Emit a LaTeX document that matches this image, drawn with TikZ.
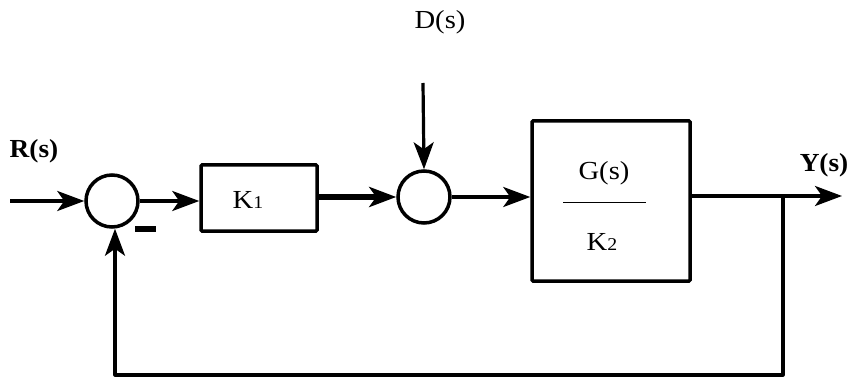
\documentclass[tikz,border=0pt]{standalone}
\usepackage{fontspec}
\setmainfont{Liberation Serif}
\usetikzlibrary{arrows.meta}
\begin{document}
\begin{tikzpicture}[x=1pt,y=-1pt,
  tip/.style={-{Stealth[length=27pt,width=20pt,inset=7pt]}},
  sig/.style={line width=3.2pt,tip},
  fatsig/.style={line width=6.5pt,tip},
  wire/.style={line width=3.2pt,line join=round},
  sumnode/.style={circle,draw,line width=3.5pt,minimum size=52pt,inner sep=0pt},
  blk/.style={draw,line width=3.5pt,rounded corners=1pt,inner sep=0pt},
  lbl/.style={font=\fontsize{26}{28}\selectfont,inner sep=0pt,xscale=1.1},
  blbl/.style={font=\fontsize{26}{28}\selectfont\bfseries,inner sep=0pt,xscale=1.05}]
\useasboundingbox (0,0) rectangle (853,382);

% blocks and summing junctions
\node[sumnode] (s1) at (112,201) {};
\node[blk,minimum width=116pt,minimum height=66pt] (k1) at (259,198) {};
\node[sumnode] (s2) at (424,197) {};
\node[blk,minimum width=158pt,minimum height=160pt] (g) at (611,201) {};

% block contents
\node[lbl] (k1t) at (248,200) {K{\fontsize{18}{18}\selectfont 1}};
\node[lbl] (gnum) at (604,173) {G(s)};
\node[lbl] (gden) at (602,242) {K{\fontsize{18}{18}\selectfont 2}};
\draw[line width=1pt] (563,202) -- (646,202);

% signal labels
\node[blbl] (rl) at (34,151) {R(s)};
\node[lbl] (dl) at (440,22) {D(s)};
\node[blbl] (yl) at (824,165) {Y(s)};
\node[inner sep=0pt] (minus) at (145,229) {\rule{21pt}{5.5pt}};

% connection points
\coordinate (rin) at (10,201);
\coordinate (din) at (423,83);
\coordinate (gout) at (690,196);
\coordinate (tap) at (783,196);
\coordinate (yout) at (842,196);
\coordinate (fbr) at (783,375);
\coordinate (fbl) at (115,375);

% forward path
\draw[sig] (rin) -- (s1.west);
\draw[sig] (s1.east) -- (k1.west |- s1.east);
\draw[fatsig] (k1.east |- s2.west) -- (s2.west);
\draw[sig] (din) -- (s2.north);
\draw[sig] (s2.east) -- (g.west |- s2.east);
\draw[sig] (gout) -- (yout);

% feedback path
\draw[wire,tip] (tap) -- (fbr) -- (fbl) -- (fbl |- s1.south);
\end{tikzpicture}
\end{document}
